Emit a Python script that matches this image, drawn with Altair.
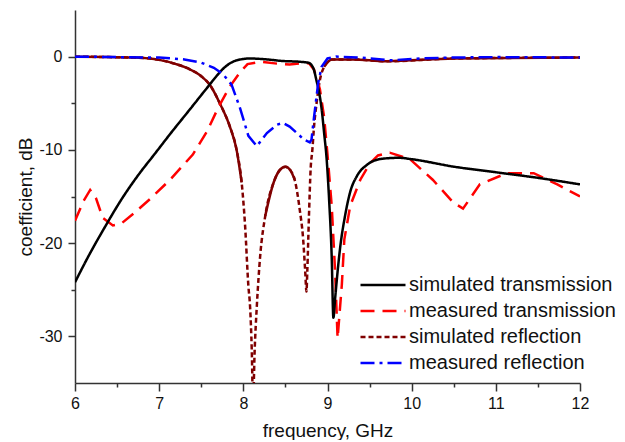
import altair as alt
import pandas as pd

# ---- data ----
sim_tr_f = [6.00, 6.16, 6.36, 6.56, 6.76, 6.95, 7.13, 7.37, 7.52, 7.60, 7.68, 7.76, 7.92, 8.08, 8.28,
            8.47, 8.67, 8.77, 8.83, 8.87, 8.90, 8.93, 8.96, 8.99, 9.02, 9.05, 9.07, 9.09, 9.11, 9.15,
            9.21, 9.27, 9.35, 9.47, 9.65, 9.85, 10.0, 10.5, 11.0, 11.5, 12.0]
sim_tr_db = [-24.2, -21.4, -18.2, -15.2, -12.6, -10.4, -8.3, -5.6, -3.9, -3.0, -2.1, -1.3, -0.4, -0.2, -0.3,
             -0.47, -0.55, -0.65, -1.2, -2.6, -3.8, -5.6, -8.2, -11.0, -15.5, -21.5, -28.0, -26.0, -24.0, -20.5,
             -17.0, -14.5, -12.8, -11.6, -10.95, -10.85, -11.0, -11.8, -12.4, -13.0, -13.7]

meas_tr_f = [6.00, 6.10, 6.18, 6.25, 6.33, 6.45, 6.55, 6.70, 6.90, 7.13, 7.40, 7.57, 7.70, 7.84, 7.96,
             8.05, 8.20, 8.40, 8.55, 8.70, 8.78, 8.84, 8.91, 8.96, 9.00, 9.05, 9.09, 9.12, 9.17, 9.20,
             9.27, 9.39, 9.50, 9.60, 9.74, 9.98, 10.25, 10.49, 10.61, 10.81, 11.13, 11.45, 11.73, 12.00]
meas_tr_db = [-17.6, -15.5, -14.3, -15.2, -17.3, -18.1, -17.9, -16.8, -15.2, -13.2, -10.5, -8.0, -5.5, -3.2, -1.7,
              -0.8, -0.55, -0.75, -0.85, -0.7, -0.7, -1.4, -3.5, -6.5, -10.5, -16.0, -23.0, -30.2, -24.5, -19.6,
              -16.0, -13.2, -11.5, -10.6, -10.3, -11.0, -13.2, -15.6, -16.3, -13.7, -12.5, -12.5, -13.7, -15.0]

sim_ref_f = [6.00, 6.40, 6.70, 7.00, 7.20, 7.35, 7.50, 7.60, 7.72, 7.84, 7.92, 7.98, 8.02, 8.06, 8.08,
             8.10, 8.115, 8.135, 8.16, 8.20, 8.26, 8.36, 8.43, 8.50, 8.56, 8.61, 8.67, 8.71, 8.735, 8.75,
             8.76, 8.78, 8.80, 8.82, 8.84, 8.87, 8.91, 8.96, 9.05, 9.30, 9.70, 10.5, 12.0]
sim_ref_db = [0.0, -0.05, -0.1, -0.35, -0.8, -1.3, -2.1, -3.0, -5.0, -7.5, -10.0, -13.5, -18.0, -24.6, -26.8,
              -31.4, -37.0, -31.4, -26.8, -21.4, -17.1, -13.5, -12.2, -11.8, -12.2, -13.2, -16.4, -19.5, -23.0, -25.2,
              -23.0, -17.0, -12.0, -10.0, -7.5, -5.0, -2.5, -1.1, -0.3, -0.3, -0.5, -0.2, -0.1]

meas_ref_f = [6.00, 6.50, 7.00, 7.30, 7.50, 7.65, 7.76, 7.86, 7.96, 8.06, 8.16, 8.28, 8.40, 8.47, 8.55,
              8.65, 8.72, 8.79, 8.81, 8.84, 8.86, 8.89, 8.93, 9.00, 9.10, 9.40, 9.74, 10.1, 10.46, 11.0, 12.0]
meas_ref_db = [0.0, -0.05, -0.1, -0.3, -0.65, -1.2, -1.9, -3.0, -5.5, -8.5, -9.6, -8.2, -7.3, -7.1, -7.5,
               -8.3, -8.9, -9.2, -8.9, -6.5, -5.0, -2.8, -1.1, -0.2, 0.0, -0.1, -0.4, -0.2, -0.1, -0.05, -0.1]

series_names = ["simulated transmission", "measured transmission",
                "simulated reflection", "measured reflection"]
series_colors = ["#000000", "#ff0000", "#800000", "#0000ff"]
series_dash = [[1, 0], [14, 8], [5, 3], [14, 5, 3, 5]]

x_major = [6, 7, 8, 9, 10, 11, 12]
x_minor = [6.5, 7.5, 8.5, 9.5, 10.5, 11.5]
y_major = [-30, -20, -10, 0]
y_minor = [-25, -15, -5]

frames = []
for name, fs, dbs in zip(series_names,
                         [sim_tr_f, meas_tr_f, sim_ref_f, meas_ref_f],
                         [sim_tr_db, meas_tr_db, sim_ref_db, meas_ref_db]):
    frames.append(pd.DataFrame({"f": fs, "db": dbs, "series": name, "idx": list(range(len(fs)))}))
df = pd.concat(frames, ignore_index=True)

FONT = "Liberation Sans"
AX = "#333333"
TXT = "#111111"

x_scale = alt.Scale(domain=[6, 12], nice=False, zero=False)
y_scale = alt.Scale(domain=[-35, 5], nice=False, zero=False)

x_major_axis = alt.Axis(values=x_major, title="frequency, GHz", orient="bottom",
                        labelExpr="'' + datum.value", tickSize=8,
                        labelFlush=False, labelOverlap=False,
                        grid=False, domainColor=AX, domainWidth=1.5,
                        tickColor=AX, tickWidth=1.5,
                        labelFont=FONT, labelFontSize=16, labelColor=TXT, labelPadding=4,
                        titleFont=FONT, titleFontSize=19, titleFontWeight="normal",
                        titleColor=TXT, titlePadding=10)
x_minor_axis = alt.Axis(values=x_minor, title=None, orient="bottom", labels=False, domain=False,
                        grid=False, tickSize=4, tickColor=AX, tickWidth=1.5)
y_major_axis = alt.Axis(values=y_major, title="coefficient, dB", orient="left",
                        labelExpr="'' + datum.value", tickSize=7,
                        labelOverlap=False,
                        grid=False, domainColor=AX, domainWidth=1.5,
                        tickColor=AX, tickWidth=1.5,
                        labelFont=FONT, labelFontSize=16, labelColor=TXT, labelPadding=6,
                        titleFont=FONT, titleFontSize=19, titleFontWeight="normal",
                        titleColor=TXT, titlePadding=3)
y_minor_axis = alt.Axis(values=y_minor, title=None, orient="left", labels=False, domain=False,
                        grid=False, tickSize=4, tickColor=AX, tickWidth=1.5)

legend = alt.Legend(orient="none", legendX=298, legendY=265, title=None,
                    symbolType="M-3,0H3", symbolSize=225, symbolStrokeWidth=2.5,
                    labelFont=FONT, labelFontSize=20, labelColor=TXT, labelLimit=0,
                    labelOffset=16, rowPadding=6, padding=0)

color_enc = alt.Color("series:N", scale=alt.Scale(domain=series_names, range=series_colors), legend=legend)
dash_enc = alt.StrokeDash("series:N", scale=alt.Scale(domain=series_names, range=series_dash), legend=legend)

base = alt.Chart(df)

simulated = {series_names[0], series_names[2]}


def series_layer(name):
    interp = "monotone" if name in simulated else "linear"
    return base.transform_filter(alt.datum.series == name).mark_line(
        strokeWidth=2.5, clip=True, interpolate=interp).encode(
        x=alt.X("f:Q", scale=x_scale, axis=None),
        y=alt.Y("db:Q", scale=y_scale, axis=None),
        color=color_enc, strokeDash=dash_enc, order="idx:Q")


# solid-looking stretches of the simulated reflection (flat parts of the curve)
sim_ref_solid = base.transform_filter(alt.datum.series == series_names[2]).transform_calculate(
    seg="datum.f <= 7.98 ? 1 : (datum.f >= 8.26 && datum.f <= 8.61 ? 2 : (datum.f >= 8.96 ? 3 : 0))"
).transform_filter("datum.seg > 0").mark_line(
    strokeWidth=2.5, clip=True, color="#800000", interpolate="monotone").encode(
    x=alt.X("f:Q", scale=x_scale, axis=None),
    y=alt.Y("db:Q", scale=y_scale, axis=None),
    detail="seg:N", order="idx:Q")

major_axes = base.mark_point(opacity=0, size=1).encode(
    x=alt.X("f:Q", scale=x_scale, axis=x_major_axis),
    y=alt.Y("db:Q", scale=y_scale, axis=y_major_axis))
minor_axes = base.mark_point(opacity=0, size=1).encode(
    x=alt.X("f:Q", scale=x_scale, axis=x_minor_axis),
    y=alt.Y("db:Q", scale=y_scale, axis=y_minor_axis))

chart = alt.layer(
    major_axes,
    minor_axes,
    series_layer(series_names[2]),
    sim_ref_solid,
    series_layer(series_names[1]),
    series_layer(series_names[0]),
    series_layer(series_names[3]),
).resolve_axis(x="independent", y="independent").properties(
    width=505, height=373,
    padding={"left": 8, "top": 2, "right": 0, "bottom": 0},
    background="white",
).configure_view(stroke=None)

chart.save("out.html", embed_options={"renderer": "svg", "actions": False})
